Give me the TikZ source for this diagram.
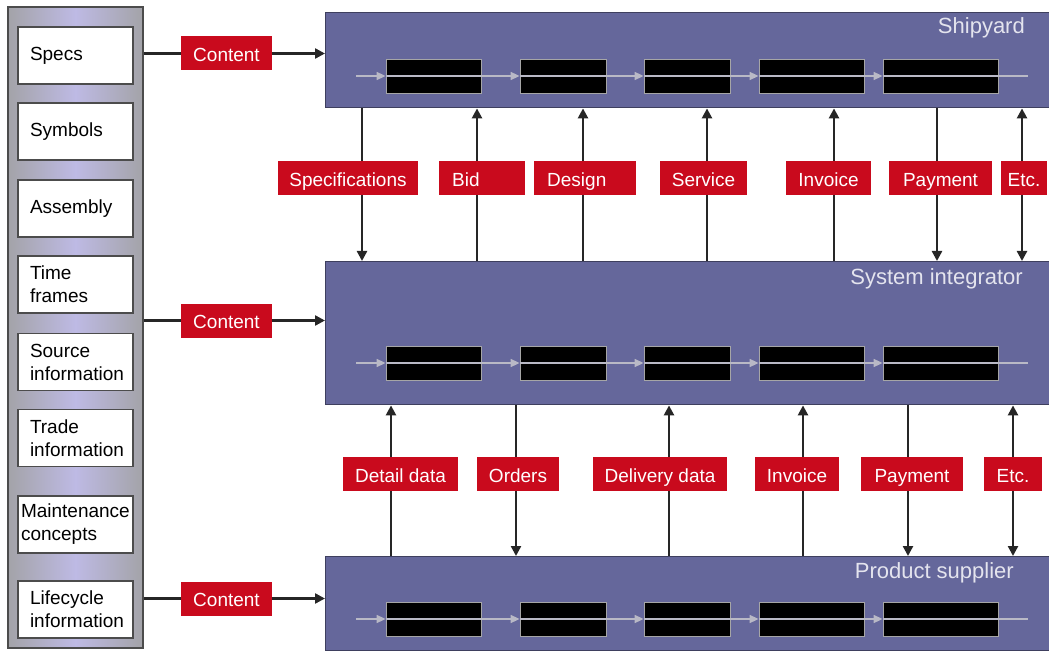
\documentclass[tikz,border=0pt]{standalone}
\usepackage{fontspec}
\setmainfont{Liberation Sans}
\usetikzlibrary{arrows.meta}
\definecolor{lanefill}{HTML}{65679B}
\definecolor{laneedge}{HTML}{3E3F5E}
\definecolor{tagred}{HTML}{C90A1D}
\definecolor{flowgray}{HTML}{B9B9C6}
\definecolor{lav}{HTML}{BEBAE4}
\definecolor{panelgray}{HTML}{A3A3A8}
\definecolor{titlegray}{HTML}{E4E4EE}
\begin{document}
\begin{tikzpicture}[x=1pt,y=-1pt,
  lane/.style={draw=laneedge, line width=1.4pt, fill=lanefill, anchor=north west, inner sep=0pt},
  lanetitle/.style={text=titlegray, font=\fontsize{22}{26}\selectfont, anchor=base east, inner sep=0pt},
  blk/.style={fill=black, draw=gray!70, line width=0.8pt, inner sep=0pt, minimum height=34pt},
  flow/.style={draw=flowgray, line width=1.6pt, -{Triangle[length=9pt,width=8pt]}},
  conn/.style={draw=black!85, line width=2.4pt, >={Triangle[length=10pt,width=10pt]}},
  tag/.style={fill=tagred, text=white, font=\fontsize{19}{22}\selectfont, inner sep=0pt, minimum height=34pt, text height=16.6pt, text depth=0pt},
  tagl/.style={tag, align=left, inner xsep=13pt},
  panel/.style={draw=gray!60!black, line width=1.8pt, left color=panelgray, right color=panelgray, middle color=lav, minimum width=135pt, minimum height=641pt, inner sep=0pt},
  item/.style={draw=black!70, line width=1.6pt, fill=white, minimum width=115pt, minimum height=57pt, text width=91pt, inner xsep=12pt, align=left, font=\fontsize{19}{23}\selectfont},
]
\useasboundingbox (0,0) rectangle (1049,652);

% left panel
\node[panel] (panel) at (75.5,327.5) {};
\node[item] (specs) at (75.5,55.5) {Specs};
\node[item] (symbols) at (75.5,131.5) {Symbols};
\node[item] (assembly) at (75.5,208.5) {Assembly};
\node[item] (time) at (75.5,284.5) {Time\\frames};
\node[item] (source) at (75.5,362) {Source\\information};
\node[item] (trade) at (75.5,438) {Trade\\information};
\node[item, inner xsep=3pt, text width=109pt] (maint) at (75.5,524.5) {Maintenance\\concepts};
\node[item] (life) at (75.5,609.5) {Lifecycle\\information};

% lanes
\node[lane, minimum width=730pt, minimum height=95pt] (ship) at (325,12) {};
\node[lane, minimum width=730pt, minimum height=143pt] (si) at (325,261) {};
\node[lane, minimum width=730pt, minimum height=94pt] (ps) at (325,556) {};
\node[lanetitle] (tship) at (1025,34) {Shipyard};
\node[lanetitle] (tsi) at (1023,284) {System integrator};
\node[lanetitle] (tps) at (1014,578) {Product supplier};

% black process boxes and flow lines
\foreach \r/\y in {s/76, i/363, p/619}{
  \node[blk, minimum width=95pt] (\r1) at (433.5,\y) {};
  \node[blk, minimum width=86pt] (\r2) at (563,\y) {};
  \node[blk, minimum width=86pt] (\r3) at (687,\y) {};
  \node[blk, minimum width=105pt] (\r4) at (811.5,\y) {};
  \node[blk, minimum width=115pt] (\r5) at (940.5,\y) {};
  \coordinate (\r fs) at (356,\y);
  \coordinate (\r fe) at (1028,\y);
  \draw[flow] (\r fs) -- (\r1.west);
  \draw[flow] (\r1.west) -- (\r2.west);
  \draw[flow] (\r2.west) -- (\r3.west);
  \draw[flow] (\r3.west) -- (\r4.west);
  \draw[flow] (\r4.west) -- (\r5.west);
  \draw[draw=flowgray, line width=1.6pt] (\r5.west) -- (\r fe);
}

% content tags
\node[tag, minimum width=91pt] (c1) at (226.5,53.5) {Content};
\node[tag, minimum width=91pt] (c2) at (226.5,320.5) {Content};
\node[tag, minimum width=91pt] (c3) at (226.5,598.5) {Content};
\foreach \c/\l in {c1/ship, c2/si, c3/ps}{
  \draw[conn] (panel.east |- \c) -- (\c.west);
  \draw[conn,->] (\c.east) -- (\l.west |- \c);
}

% row 1 connectors (shipyard <-> system integrator)
\coordinate (a1) at (362,0);
\coordinate (a2) at (477,0);
\coordinate (a3) at (583,0);
\coordinate (a4) at (707,0);
\coordinate (a5) at (834,0);
\coordinate (a6) at (937,0);
\coordinate (a7) at (1022,0);
\draw[conn,->] (ship.south -| a1) -- (si.north -| a1);
\draw[conn,<-] (ship.south -| a2) -- (si.north -| a2);
\draw[conn,<-] (ship.south -| a3) -- (si.north -| a3);
\draw[conn,<-] (ship.south -| a4) -- (si.north -| a4);
\draw[conn,<-] (ship.south -| a5) -- (si.north -| a5);
\draw[conn,->] (ship.south -| a6) -- (si.north -| a6);
\draw[conn,<->] (ship.south -| a7) -- (si.north -| a7);

\node[tag, minimum width=140pt] (l1) at (348,178) {Specifications};
\node[tagl, text width=60pt, anchor=west] (l2) at (439,178) {Bid};
\node[tagl, text width=76pt, anchor=west] (l3) at (534,178) {Design};
\node[tag, minimum width=87pt] (l4) at (703.5,178) {Service};
\node[tag, minimum width=85pt] (l5) at (828.5,178) {Invoice};
\node[tag, minimum width=103pt] (l6) at (940.5,178) {Payment};
\node[tag, minimum width=46pt] (l7) at (1024,178) {Etc.};

% row 2 connectors (system integrator <-> product supplier)
\coordinate (b1) at (391,0);
\coordinate (b2) at (516,0);
\coordinate (b3) at (669,0);
\coordinate (b4) at (803,0);
\coordinate (b5) at (908,0);
\coordinate (b6) at (1013,0);
\draw[conn,<-] (si.south -| b1) -- (ps.north -| b1);
\draw[conn,->] (si.south -| b2) -- (ps.north -| b2);
\draw[conn,<-] (si.south -| b3) -- (ps.north -| b3);
\draw[conn,<-] (si.south -| b4) -- (ps.north -| b4);
\draw[conn,->] (si.south -| b5) -- (ps.north -| b5);
\draw[conn,<->] (si.south -| b6) -- (ps.north -| b6);

\node[tag, minimum width=115pt] (m1) at (400.5,474) {Detail data};
\node[tag, minimum width=82pt] (m2) at (518,474) {Orders};
\node[tag, minimum width=134pt] (m3) at (660,474) {Delivery data};
\node[tag, minimum width=84pt] (m4) at (797,474) {Invoice};
\node[tag, minimum width=102pt] (m5) at (912,474) {Payment};
\node[tag, minimum width=58pt] (m6) at (1013,474) {Etc.};
\end{tikzpicture}
\end{document}
